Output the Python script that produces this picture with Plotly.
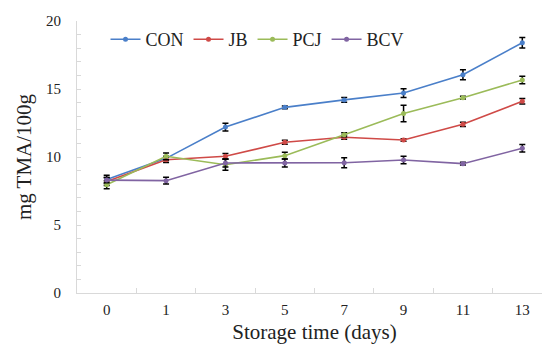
import plotly.graph_objects as go

days = ["0", "1", "3", "5", "7", "9", "11", "13"]
con = [8.35, 9.9, 12.2, 13.65, 14.2, 14.7, 16.05, 18.4]
con_err = [0.3, 0.15, 0.28, 0.1, 0.18, 0.32, 0.37, 0.38]
jb = [8.2, 9.8, 10.05, 11.08, 11.45, 11.25, 12.4, 14.1]
jb_err = [0.3, 0.2, 0.2, 0.15, 0.15, 0.1, 0.15, 0.2]
pcj = [7.96, 10.05, 9.43, 10.1, 11.64, 13.2, 14.36, 15.66]
pcj_err = [0.3, 0.25, 0.4, 0.25, 0.15, 0.6, 0.1, 0.28]
bcv = [8.3, 8.26, 9.56, 9.56, 9.58, 9.78, 9.51, 10.64]
bcv_err = [0.2, 0.25, 0.3, 0.3, 0.37, 0.28, 0.1, 0.27]

series = [
    ("CON", con, con_err, "#4a7fc9"),
    ("JB", jb, jb_err, "#cf4a47"),
    ("PCJ", pcj, pcj_err, "#9bbb59"),
    ("BCV", bcv, bcv_err, "#8064a2"),
]

fig = go.Figure()
for name, vals, errs, color in series:
    fig.add_trace(go.Scatter(
        x=days, y=vals, name=name, mode="lines+markers",
        line=dict(color=color, width=1.6),
        marker=dict(color=color, size=5),
        error_y=dict(type="data", array=errs, visible=True,
                     color="black", thickness=1.5, width=3),
    ))

ff = "Liberation Serif, Times New Roman, serif"
fig.update_layout(
    width=550, height=354,
    margin=dict(l=69, r=6, t=13, b=69),
    paper_bgcolor="white", plot_bgcolor="white",
    font=dict(family=ff, color="#222"),
    legend=dict(orientation="h", x=0.06, y=1.0, xanchor="left", yanchor="top",
                font=dict(size=18, family=ff, color="#222"), bgcolor="rgba(0,0,0,0)",
                itemwidth=30, tracegroupgap=0),
    xaxis=dict(
        type="category", range=[-0.5, 7.5],
        showline=True, linecolor="#d9d9d9", linewidth=1,
        showgrid=False, zeroline=False,
        tickson="boundaries", ticks="inside", ticklen=5, tickcolor="#d9d9d9",
        tickfont=dict(size=15, family=ff, color="#222"),
        ticklabelstandoff=3,
        title=dict(text="Storage time (days)", font=dict(size=21, family=ff, color="#222"), standoff=7),
    ),
    yaxis=dict(
        range=[0, 20], dtick=5, tick0=0,
        showline=True, linecolor="#d9d9d9", linewidth=1,
        showgrid=False, zeroline=False,
        ticks="inside", ticklen=4, tickcolor="#d9d9d9",
        minor=dict(dtick=1, ticks="inside", ticklen=4, tickcolor="#d9d9d9"),
        tickfont=dict(size=15, family=ff, color="#222"),
        ticklabelstandoff=12,
        title=dict(text="mg TMA/100g", font=dict(size=21, family=ff, color="#222"), standoff=8),
    ),
)

fig.write_html("out.html")
